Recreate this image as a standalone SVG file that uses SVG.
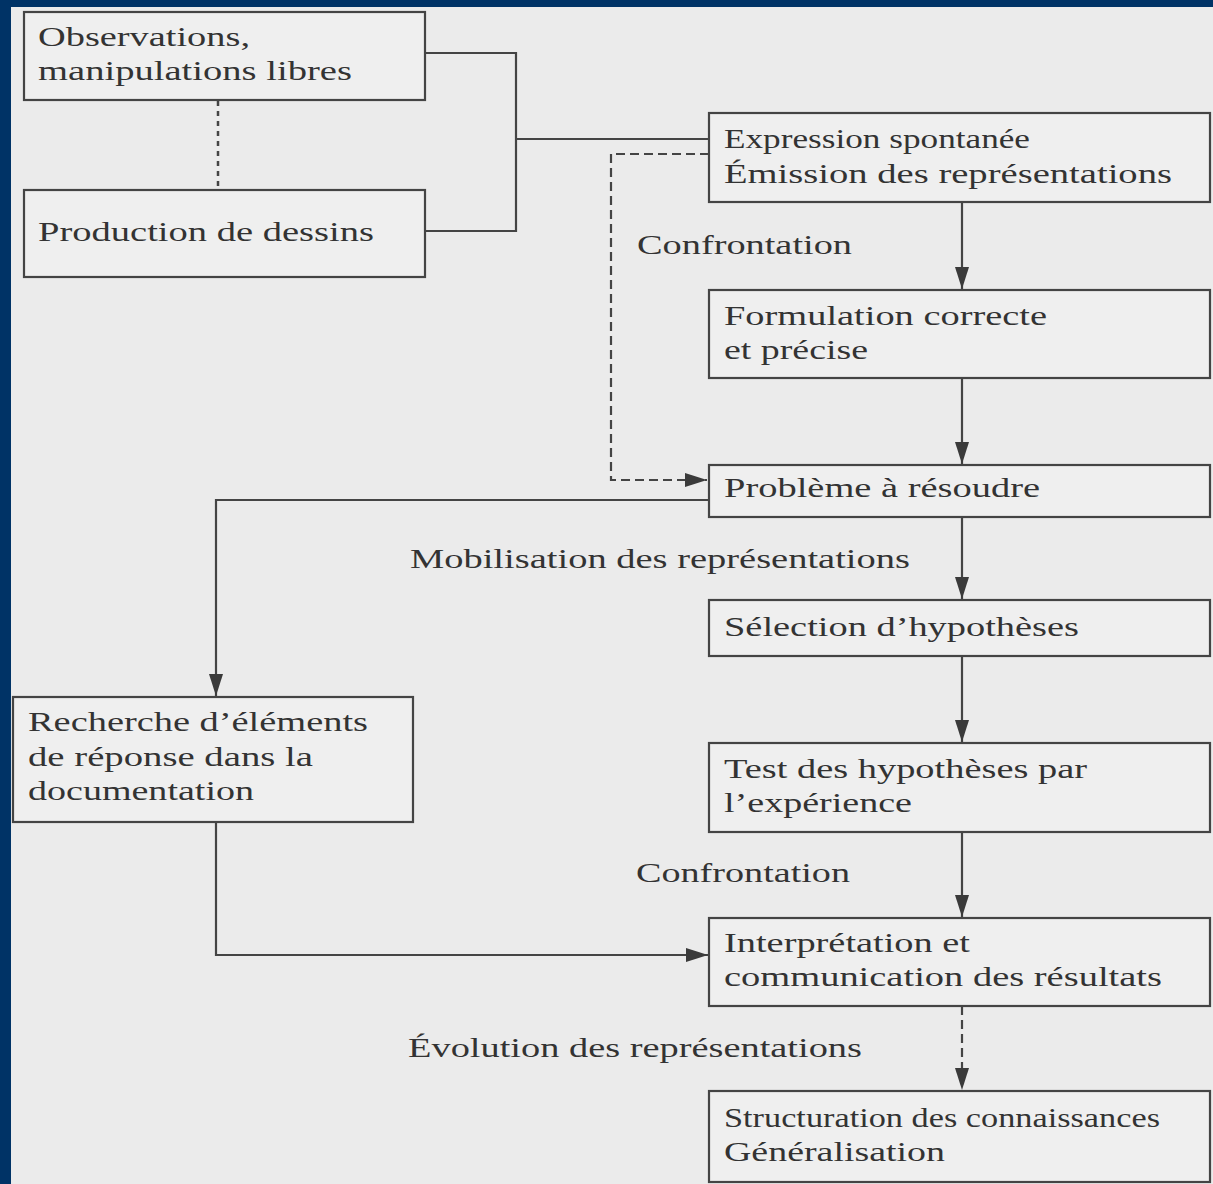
<svg xmlns="http://www.w3.org/2000/svg" width="1213" height="1184" viewBox="0 0 1213 1184">
<defs>
<marker id="ah" viewBox="0 0 22 14" refX="22" refY="7" markerWidth="22" markerHeight="14" markerUnits="userSpaceOnUse" orient="auto">
<path d="M0,0 L22,7 L0,14 Z" fill="#3a3a3a"/>
</marker>
<style>
.bx{fill:#efefef;stroke:#444;stroke-width:2.2}
.t{font-family:"Liberation Serif","Times New Roman",serif;font-size:27px;fill:#333}
.ln{fill:none;stroke:#444;stroke-width:2.2}
.ds{fill:none;stroke:#444;stroke-width:2.2;stroke-dasharray:9,5}
.dt{fill:none;stroke:#444;stroke-width:2.5;stroke-dasharray:5,5}
</style>
</defs>
<rect x="0" y="0" width="1213" height="1184" fill="#ebebeb"/>
<rect x="0" y="0" width="1213" height="7" fill="#003366"/>
<rect x="0" y="0" width="11" height="1184" fill="#003366"/>

<g id="connectors">
<line class="dt" x1="218" y1="101" x2="218" y2="190"/>
<polyline class="ln" points="425,53 516,53 516,231 425,231"/>
<line class="ln" x1="516" y1="139" x2="709" y2="139"/>
<polyline class="ds" points="709,154 611,154 611,480 707,480" marker-end="url(#ah)"/>
<line class="ln" x1="962" y1="202" x2="962" y2="289" marker-end="url(#ah)"/>
<line class="ln" x1="962" y1="378" x2="962" y2="464" marker-end="url(#ah)"/>
<polyline class="ln" points="709,500 216,500 216,696" marker-end="url(#ah)"/>
<line class="ln" x1="962" y1="517" x2="962" y2="599" marker-end="url(#ah)"/>
<line class="ln" x1="962" y1="656" x2="962" y2="742" marker-end="url(#ah)"/>
<line class="ln" x1="962" y1="832" x2="962" y2="917" marker-end="url(#ah)"/>
<polyline class="ln" points="216,822 216,955 708,955" marker-end="url(#ah)"/>
<line class="ds" x1="962" y1="1006" x2="962" y2="1090" marker-end="url(#ah)"/>
<text class="t" x="637" y="254" textLength="215" lengthAdjust="spacingAndGlyphs">Confrontation</text>
<text class="t" x="410" y="568" textLength="500" lengthAdjust="spacingAndGlyphs">Mobilisation des représentations</text>
<text class="t" x="636" y="882" textLength="214" lengthAdjust="spacingAndGlyphs">Confrontation</text>
<text class="t" x="408" y="1057" textLength="454" lengthAdjust="spacingAndGlyphs">Évolution des représentations</text>
</g>

<g id="observations">
<rect class="bx" x="24" y="12" width="401" height="88"/>
<text class="t" x="38" y="46" textLength="212" lengthAdjust="spacingAndGlyphs">Observations,</text>
<text class="t" x="38" y="80" textLength="314" lengthAdjust="spacingAndGlyphs">manipulations libres</text>
</g>
<g id="production">
<rect class="bx" x="24" y="190" width="401" height="87"/>
<text class="t" x="38" y="241" textLength="336" lengthAdjust="spacingAndGlyphs">Production de dessins</text>
</g>
<g id="expression">
<rect class="bx" x="709" y="113" width="501" height="89"/>
<text class="t" x="724" y="148" textLength="306" lengthAdjust="spacingAndGlyphs">Expression spontanée</text>
<text class="t" x="724" y="183" textLength="448" lengthAdjust="spacingAndGlyphs">Émission des représentations</text>
</g>
<g id="formulation">
<rect class="bx" x="709" y="290" width="501" height="88"/>
<text class="t" x="724" y="325" textLength="323" lengthAdjust="spacingAndGlyphs">Formulation correcte</text>
<text class="t" x="724" y="359" textLength="144" lengthAdjust="spacingAndGlyphs">et précise</text>
</g>
<g id="probleme">
<rect class="bx" x="709" y="465" width="501" height="52"/>
<text class="t" x="724" y="497" textLength="316" lengthAdjust="spacingAndGlyphs">Problème à résoudre</text>
</g>
<g id="selection">
<rect class="bx" x="709" y="600" width="501" height="56"/>
<text class="t" x="724" y="636" textLength="355" lengthAdjust="spacingAndGlyphs">Sélection d’hypothèses</text>
</g>
<g id="recherche">
<rect class="bx" x="13" y="697" width="400" height="125"/>
<text class="t" x="28" y="731" textLength="340" lengthAdjust="spacingAndGlyphs">Recherche d’éléments</text>
<text class="t" x="28" y="766" textLength="285" lengthAdjust="spacingAndGlyphs">de réponse dans la</text>
<text class="t" x="28" y="800" textLength="226" lengthAdjust="spacingAndGlyphs">documentation</text>
</g>
<g id="test">
<rect class="bx" x="709" y="743" width="501" height="89"/>
<text class="t" x="724" y="778" textLength="363" lengthAdjust="spacingAndGlyphs">Test des hypothèses par</text>
<text class="t" x="724" y="812" textLength="188" lengthAdjust="spacingAndGlyphs">l’expérience</text>
</g>
<g id="interpretation">
<rect class="bx" x="709" y="918" width="501" height="88"/>
<text class="t" x="724" y="952" textLength="246" lengthAdjust="spacingAndGlyphs">Interprétation et</text>
<text class="t" x="724" y="986" textLength="438" lengthAdjust="spacingAndGlyphs">communication des résultats</text>
</g>
<g id="structuration">
<rect class="bx" x="709" y="1091" width="501" height="91"/>
<text class="t" x="724" y="1127" textLength="436" lengthAdjust="spacingAndGlyphs">Structuration des connaissances</text>
<text class="t" x="724" y="1161" textLength="221" lengthAdjust="spacingAndGlyphs">Généralisation</text>
</g>
</svg>
